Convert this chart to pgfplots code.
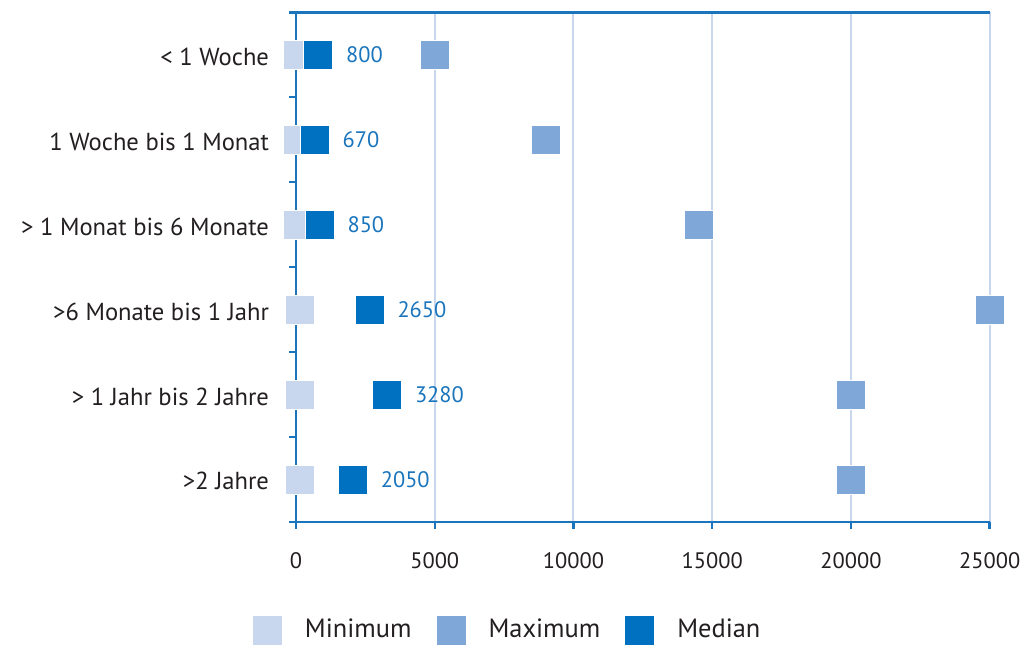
\documentclass[border=0pt]{standalone}
\usepackage{fontspec}
\setmainfont{PT Sans}
\usepackage{pgfplots}
\pgfplotsset{compat=1.18}
\definecolor{axisblue}{HTML}{1A75BC}
\definecolor{minc}{HTML}{C8D6EE}
\definecolor{maxc}{HTML}{7FA7D8}
\definecolor{medc}{HTML}{0070C0}
\definecolor{gridc}{HTML}{C8D6EE}
\definecolor{txt}{HTML}{231F20}
\begin{document}
\begin{tikzpicture}
\begin{axis}[
  scale only axis, width=346.8pt, height=254.7pt,
  xmin=0, xmax=25000, ymin=-0.5, ymax=5.5, y dir=reverse,
  axis x line*=box, axis y line*=left,
  axis line style={axisblue, line width=1.2pt},
  xtick={0,5000,...,25000},
  xtick pos=bottom, ytick pos=left,
  tick align=outside,
  major tick length=3.5pt,
  tick style={axisblue, line width=1.2pt},
  xmajorgrids, grid style={gridc, line width=1pt},
  ytick={-0.5,0.5,...,5.5}, yticklabels={},
  extra y ticks={0,1,2,3,4,5},
  extra y tick labels={{< 1 Woche},{1 Woche bis 1 Monat},{> 1 Monat bis 6 Monate},{>6 Monate bis 1 Jahr},{> 1 Jahr bis 2 Jahre},{>2 Jahre}},
  extra y tick style={major tick length=0pt, yticklabel style={xshift=-10pt, font=\fontsize{12.3}{14}\selectfont, yshift=-1pt}},
  scaled x ticks=false,
  /pgf/number format/.cd, 1000 sep={}, assume math mode=true,
  /pgfplots/.cd,
  ticklabel style={font=\fontsize{11.2}{13}\selectfont, text=txt},
  xticklabel style={yshift=-8.5pt},
  legend columns=3,
  legend style={draw=none, fill=none, at={(axis description cs:0.3066,-0.2126)}, anchor=center,
    font=\fontsize{13.2}{15}\selectfont, text=txt,
    /tikz/every odd column/.style={column sep=9.5pt},
    /tikz/every even column/.style={column sep=10.5pt}},
  legend image code/.code={\fill[#1, draw=none] (0pt,-7.25pt) rectangle (14.5pt,7.25pt);},
]
\addplot[only marks, color=minc, mark=square*, mark size=7.25pt, mark options={draw=white, line width=0.3pt}]
  coordinates {(50,0) (50,1) (50,2) (120,3) (120,4) (120,5)};
\addlegendentry{Minimum}
\addplot[only marks, color=maxc, mark=square*, mark size=7.25pt, mark options={draw=white, line width=0.3pt}]
  coordinates {(5000,0) (9000,1) (14500,2) (25000,3) (20000,4) (20000,5)};
\addlegendentry{Maximum}
\addplot[only marks, color=medc, mark=square*, mark size=7.25pt, mark options={draw=white, line width=0.3pt},
  point meta=x, nodes near coords,
  nodes near coords style={anchor=west, xshift=10.5pt, text=axisblue, font=\fontsize{11.2}{13}\selectfont}]
  coordinates {(800,0) (670,1) (850,2) (2650,3) (3280,4) (2050,5)};
\addlegendentry{Median}
\coordinate (sw) at (axis description cs:0,0);
\coordinate (ne) at (axis description cs:1,1);
\end{axis}
\pgfresetboundingbox
\path[use as bounding box] ([shift={(-148pt,-61.15pt)}]sw) rectangle ([shift={(19.65pt,6.15pt)}]ne);
\end{tikzpicture}
\end{document}
